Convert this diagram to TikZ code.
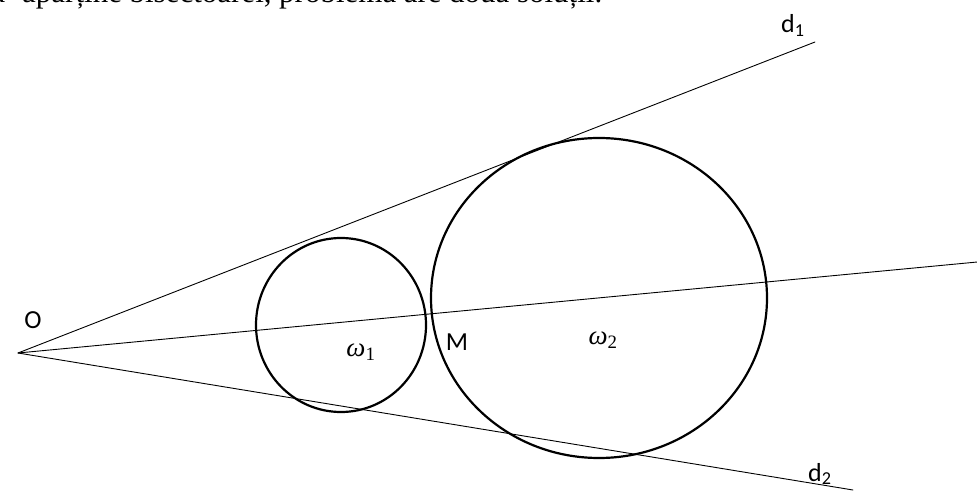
\documentclass[tikz,border=0pt]{standalone}
\usepackage{fontspec}
\setmainfont{Liberation Serif}
\newfontfamily\lblfont{Carlito}
\begin{document}
\begin{tikzpicture}[x=1pt,y=-1pt,
  thinline/.style={line width=0.9pt, line cap=round},
  circline/.style={line width=2.2pt},
  lbl/.style={font=\lblfont\fontsize{26}{30}\selectfont, inner sep=0pt},
  mlbl/.style={font=\fontsize{27}{31}\selectfont, inner sep=0pt},
  toptext/.style={font=\fontsize{31}{36}\selectfont, inner sep=0pt}]
\useasboundingbox (0,0) rectangle (977,502);
\clip (0,0) rectangle (977,502);
% top partial text line
\node[toptext, anchor=base west] (txt) at (22,3)
  {\makebox[580pt][s]{aparține bisectoarei, problema are două soluții.}};
\node[toptext, anchor=base east] (txtb) at (5.5,3) {nu};
% points
\coordinate (O) at (18,353);
\coordinate (E1) at (815,42);
\coordinate (E2) at (853,490);
\coordinate (EB) at (990,260.8);
% lines
\draw[thinline] (O) -- (E1);
\draw[thinline] (O) -- (E2);
\draw[thinline] (O) -- (EB);
% circles
\draw[circline] (341,325) ellipse [x radius=85, y radius=87];
\draw[circline] (599,298) ellipse [x radius=168, y radius=160];
% labels
\node[lbl] (lO) at (33,320) {O};
\node[lbl] (lM) at (457,342) {M};
\node[lbl, anchor=base west] (ld1) at (781,33) {d\textsubscript{1}};
\node[lbl, anchor=base west] (ld2) at (808,481) {d\textsubscript{2}};
\node[mlbl] (w1) at (361,352) {\textit{ω}\textsubscript{1}};
\node[mlbl] (w2) at (603,340) {\textit{ω}\textsubscript{2}};
\end{tikzpicture}
\end{document}
